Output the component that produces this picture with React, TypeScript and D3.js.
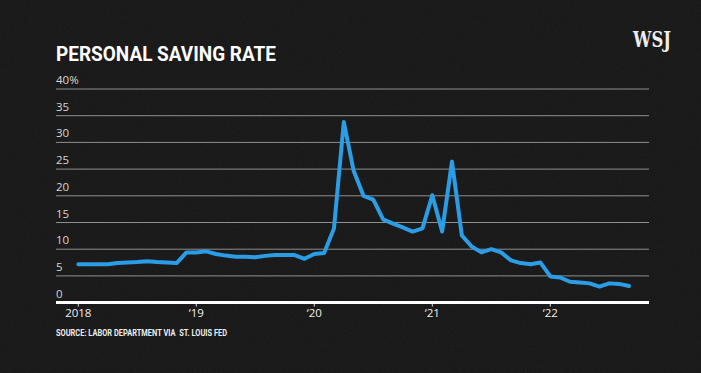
import React from 'react'
import * as d3 from 'd3'

// personal saving rate, monthly, Jan 2018 - Sep 2022 (percent)
const savingRate = [
  7.2, 7.2, 7.2, 7.2, 7.4, 7.5, 7.6, 7.75, 7.6, 7.5, 7.4, 9.4,
  9.4, 9.6, 9.1, 8.8, 8.6, 8.6, 8.5, 8.75, 8.9, 8.9, 8.9, 8.2,
  9.1, 9.3, 13.9, 33.8, 24.7, 20.0, 19.3, 15.6, 14.8, 14.1, 13.3, 13.9,
  20.1, 13.3, 26.4, 12.6, 10.5, 9.4, 10.0, 9.4, 7.9, 7.4, 7.2, 7.5,
  4.9, 4.7, 3.9, 3.75, 3.6, 3.0, 3.6, 3.5, 3.1,
]
const months = d3.timeMonth.range(new Date(2018, 0, 1), new Date(2022, 9, 1))
const yTicks = [0, 5, 10, 15, 20, 25, 30, 35, 40]
const xTickMonths = [0, 12, 24, 36, 48]
const xTickLabels = ['2018', '\u201819', '\u201820', '\u201821', '\u201822']

const W = 701, H = 373

export default function App() {
  const left = 56, right = 649
  const x = d3.scaleLinear().domain([0, 48]).range([78.3, 550.3])
  const y = d3.scaleLinear().domain([0, 40]).range([302.6, 89])
  const line = d3.line<number>()
    .x((d, i) => x(i))
    .y(d => y(d))
    .curve(d3.curveLinear)

  return (
    <div style={{ position: 'fixed', left: 0, top: 0 }}>
      <svg width={W} height={H} style={{ display: 'block' }}>
        <defs>
          <filter id="noise" x="0" y="0" width="100%" height="100%">
            <feTurbulence type="fractalNoise" baseFrequency="0.9" numOctaves="2" seed="3" />
            <feColorMatrix type="saturate" values="0" />
          </filter>
        </defs>
        <rect width={W} height={H} fill="#161616" />
        <rect width={W} height={H} filter="url(#noise)" opacity={0.06} />

        <text x={56} y={60.5} fill="#fff" fontFamily="'Liberation Sans Narrow', 'Roboto', sans-serif"
          fontWeight="bold" fontSize={21} textLength={220} lengthAdjust="spacingAndGlyphs">
          PERSONAL SAVING RATE
        </text>
        <text x={633} y={47} fill="#eee" fontFamily="'DejaVu Serif', 'Liberation Serif', serif"
          fontWeight="bold" fontSize={22} textLength={38} lengthAdjust="spacingAndGlyphs">
          WSJ
        </text>

        {yTicks.filter(t => t > 0).map(t => (
          <line key={t} x1={left} x2={right} y1={y(t)} y2={y(t)} stroke="#8f8f8f" strokeWidth={1} />
        ))}
        {yTicks.map(t => (
          <text key={'l' + t} x={left} y={y(t) - 5} fill="#d6d6d6"
            fontFamily="'Open Sans', 'Noto Sans', sans-serif" fontSize={11.5}>
            {t === 40 ? '40%' : t}
          </text>
        ))}

        {xTickMonths.map((m, i) => (
          <g key={m}>
            <line x1={x(m)} x2={x(m)} y1={y(0)} y2={y(0) + 4} stroke="#ddd" strokeWidth={1} />
            <text x={x(m)} y={317} textAnchor="middle" fill="#eee"
              fontFamily="'Open Sans', 'Noto Sans', sans-serif" fontSize={11.5}>
              {xTickLabels[i]}
            </text>
          </g>
        ))}

        <path d={line(savingRate) || ''} fill="none" stroke="#2a9de6" strokeWidth={4}
          strokeLinejoin="round" strokeLinecap="round" />
        <line x1={left} x2={right} y1={y(0)} y2={y(0)} stroke="#fff" strokeWidth={3} />

        <text x={56} y={336} fill="#eee" fontFamily="'Liberation Sans Narrow', 'Roboto', sans-serif"
          fontWeight="bold" fontSize={9} textLength={171} lengthAdjust="spacingAndGlyphs"
          style={{ whiteSpace: 'pre' }}>
          {'SOURCE: LABOR DEPARTMENT VIA  ST. LOUIS FED'}
        </text>
      </svg>
    </div>
  )
}
